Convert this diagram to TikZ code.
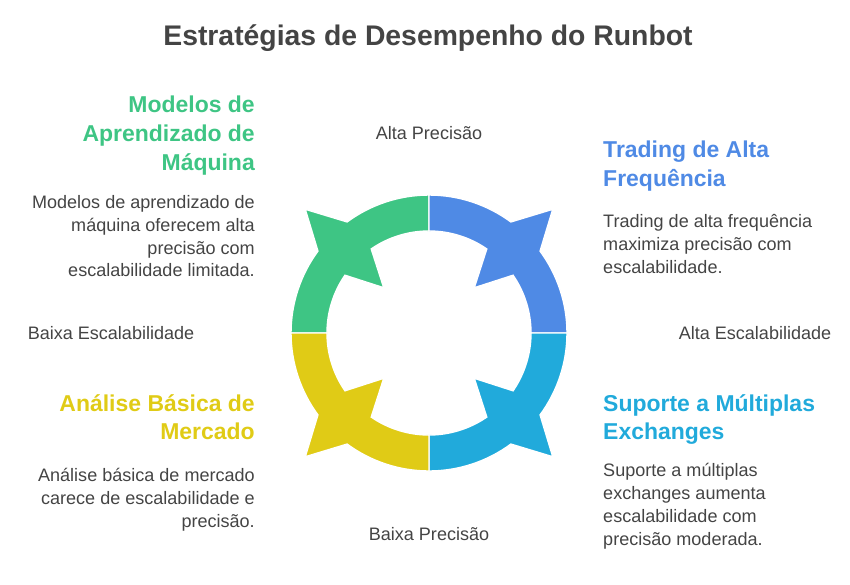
\documentclass[tikz,border=0pt]{standalone}
\usepackage{fontspec}
\setmainfont{Liberation Sans}
\definecolor{mlgreen}{HTML}{3EC584}
\definecolor{hfblue}{HTML}{4F8AE5}
\definecolor{excyan}{HTML}{21AADB}
\definecolor{mkyellow}{HTML}{E0CB16}
\definecolor{txtgray}{HTML}{444444}
\tikzset{
  head/.style={font=\fontsize{19.6}{24.6}\selectfont\bfseries, inner sep=0pt},
  body/.style={font=\fontsize{15.4}{19.5}\selectfont, text=txtgray, inner sep=0pt},
  axis/.style={font=\fontsize{15.4}{17}\selectfont, text=txtgray, inner sep=0pt},
}
\begin{document}
\begin{tikzpicture}[x=0.03cm, y=-0.03cm]
	\useasboundingbox (0,0) rectangle (850,584);
	% ring of four quadrants
	\foreach \b/\col in {180/mlgreen, 270/hfblue, 0/excyan, 90/mkyellow}{
		\pgfmathsetmacro\m{\b+45}
		\fill[\col, draw=white, line width=1.2pt, shift={(429,333)}]
			(\b:138) arc[start angle=\b, end angle=\m-8.6, radius=138]
			-- (\m:175) -- (\m+8.6:138)
			arc[start angle=\m+8.6, end angle=\b+90, radius=138]
			-- (\b+90:102)
			arc[start angle=\b+90, end angle=\m+10.5, radius=102]
			-- (\m:64) -- (\m-10.5:102)
			arc[start angle=\m-10.5, end angle=\b, radius=102] -- cycle;
	}
	% title
	\node[font=\fontsize{24.2}{28}\selectfont\bfseries, text=txtgray] (title) at (428,38) {Estratégias de Desempenho do Runbot};
	% axis labels
	\node[axis] (hiprec) at (429,133) {Alta Precisão};
	\node[axis] (loprec) at (429,534) {Baixa Precisão};
	\node[axis] (loscal) at (111,333) {Baixa Escalabilidade};
	\node[axis] (hiscal) at (755,333) {Alta Escalabilidade};
	% quadrant texts
	\node[head, text=mlgreen, align=right, anchor=north east] (mlhead) at (255,96) {Modelos de\\Aprendizado de\\Máquina};
	\node[body, align=right, anchor=north east] (mlbody) at (255,195) {Modelos de aprendizado de\\máquina oferecem alta\\precisão com\\escalabilidade limitada.};
	\node[head, text=hfblue, align=left, anchor=north west] (hfhead) at (603,141) {Trading de Alta\\Frequência};
	\node[body, align=left, anchor=north west] (hfbody) at (603,214) {Trading de alta frequência\\maximiza precisão com\\escalabilidade.};
	\node[head, text=mkyellow, align=right, anchor=north east] (mkhead) at (255,394) {Análise Básica de\\Mercado};
	\node[body, align=right, anchor=north east] (mkbody) at (255,468) {Análise básica de mercado\\carece de escalabilidade e\\precisão.};
	\node[head, text=excyan, align=left, anchor=north west] (exhead) at (603,394) {Suporte a Múltiplas\\Exchanges};
	\node[body, align=left, anchor=north west] (exbody) at (603,463) {Suporte a múltiplas\\exchanges aumenta\\escalabilidade com\\precisão moderada.};
\end{tikzpicture}
\end{document}
